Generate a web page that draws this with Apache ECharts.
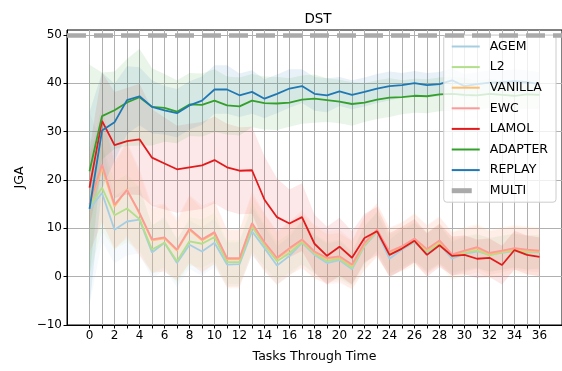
<!DOCTYPE html>
<html><head><meta charset="utf-8">
<script src="https://cdn.jsdelivr.net/npm/echarts@6/dist/echarts.min.js"></script>
<style>html,body{margin:0;padding:0;background:#fff}#c{width:562px;height:371px}</style>
</head><body><div id="c"></div>
<script>
const tasks = [0,1,2,3,4,5,6,7,8,9,10,11,12,13,14,15,16,17,18,19,20,21,22,23,24,25,26,27,28,29,30,31,32,33,34,35,36];
const xTickValues = [0,1,2,3,4,5,6,7,8,9,10,11,12,13,14,15,16,17,18,19,20,21,22,23,24,25,26,27,28,29,30,31,32,33,34,35,36];
const xLabelValues = [0,2,4,6,8,10,12,14,16,18,20,22,24,26,28,30,32,34,36];
const yTickValues = [-10,0,10,20,30,40,50];
const multiValue = 50;

const agem    = [14,17.3,9.7,11.4,11.8,5.0,7.0,2.8,6.6,5.2,7.0,2.5,2.6,9.4,5.9,2.3,4.3,7.0,4.5,2.8,3.4,1.5,6.3,9.2,3.7,5.6,7.1,4.9,6.6,3.7,4.7,5.2,4.6,4.9,5.3,5.0,5.0];
const agemStd = [20,10,7,7,7,5.5,5.5,5,5,5,5,4.5,4.5,5,4.5,4,4,4.5,4,4,4,3.5,4,4,4,4,4,4,4,3.5,3.5,3.5,3.5,3.5,3.5,3.5,3.5];
const l2      = [14.5,18.4,12.7,14.1,11.9,5.6,7.0,3.2,7.3,6.8,8.2,3.0,3.0,10.3,6.5,3.2,4.9,7.1,4.8,3.2,3.7,1.8,6.5,9.4,4.6,5.9,7.3,5.2,6.8,4.2,4.9,5.4,4.4,5.0,5.4,5.0,5.2];
const l2Std   = [14,9,7,7,6.5,5,5,4.5,5,5,5,4.5,4.5,5,4.5,4,4,4.5,4,4,4,3.5,4,4,4,4,4,4,4,3.5,3.5,3.5,3.5,3.5,3.5,3.5,3.5];
const vanilla = [14.8,22.5,14.5,18.0,13.0,7.5,7.9,5.4,9.7,7.5,9.0,3.6,3.6,10.9,6.9,3.7,5.7,7.5,5.0,3.7,4.0,2.3,6.8,9.5,5.0,6.1,7.7,5.5,7.3,4.4,5.2,5.9,4.7,5.2,5.7,5.4,5.2];
const vanillaStd = [10,11,9,9.5,8.5,6.5,7,6,7,6.5,6.5,6,6,6,6,5.5,5.5,5.5,5.5,5,5,5,5.5,5.5,5,5,5.5,5,5,5,5,5,5,5,5,5,5];
const ewc     = [15,23.2,14.9,17.9,13.2,7.7,8.1,5.6,9.9,7.7,9.2,3.8,3.8,11.1,7.1,3.9,5.9,7.7,5.2,3.9,4.2,2.5,7.0,9.7,5.2,6.3,7.9,5.7,7.5,4.6,5.4,6.1,4.9,5.4,5.9,5.6,5.4];
const ewcStd  = [10,12,9,10,9,7,7,6.5,7,7,6.5,6,6,6.5,6,5.5,5.5,6,5.5,5.5,5.5,5,5.5,5.5,5,5,5,5,5,4.5,4.5,4.5,4.5,4.5,4.5,4.5,4.5];
const lamol   = [18.4,32.2,27.2,28.0,28.4,24.6,23.4,22.2,22.6,23.0,24.1,22.6,21.9,22.0,15.9,12.3,11.0,12.3,6.8,4.3,6.2,3.9,8.0,9.4,4.5,5.8,7.4,4.5,6.5,4.3,4.5,3.7,3.9,2.4,5.5,4.5,4.1];
const lamolStd = [8,10,11,11,11.5,10,9.5,9,9,9,9,9,9,9,9,8,7,7,6,6,6,5.5,5,5,4.5,4.5,4.5,4.5,4.5,4,4,4,4,4,4,4,4];
const adapter = [21.8,33.2,34.4,36.0,37.1,35.1,34.9,34.1,35.6,35.5,36.4,35.4,35.2,36.4,35.9,35.8,36.0,36.6,36.8,36.5,36.2,35.7,36.0,36.6,37.0,37.1,37.4,37.3,37.7,37.8,37.6,37.5,37.8,37.6,37.4,37.7,37.6];
const adapterStd = [22,9,8,9,10,8,7,6.5,6.5,6.5,6.5,6,6,5.5,5.5,5.5,5,5,5,4.5,4.5,4.5,4,4,4,3.5,3.5,3.5,3.5,3.5,3.5,3,3,3,3,3,3];
const replay  = [14,30.2,31.9,36.5,37.3,35.1,34.4,33.8,35.4,36.4,38.7,38.7,37.5,38.2,36.8,37.8,38.9,39.4,37.8,37.5,38.3,37.6,38.2,38.9,39.4,39.6,40.0,39.6,39.8,40.6,39.4,39.8,40.1,40.2,40.4,40.2,39.8];
const replayStd = [20,12,8,7,6,5.5,5,5,5,5,5,5,4.5,4.5,4,4,4,3.5,3.5,3.5,3,3,3,3,3,2.5,2.5,2.5,2.5,2.5,2.5,2.5,2.5,2.5,2.5,2.5,2.5];

const seriesNames = ['AGEM','L2','VANILLA','EWC','LAMOL','ADAPTER','REPLAY'];
const seriesMeans = [agem,l2,vanilla,ewc,lamol,adapter,replay];
const seriesStds  = [agemStd,l2Std,vanillaStd,ewcStd,lamolStd,adapterStd,replayStd];
const seriesColors = ['#a6cee3','#b2df8a','#fdbf6f','#fb9a99','#e31a1c','#33a02c','#1f78b4'];
const multiColor = '#aaaaaa';

const FONT = 'DejaVu Sans';
const bandSeries = [], lineSeries = [];
seriesNames.forEach((n, k) => {
  const m = seriesMeans[k], s = seriesStds[k], col = seriesColors[k];
  bandSeries.push({
    name: n + '_band', type: 'custom', silent: true, z: 1,
    data: [[tasks[0], m[0]]],
    renderItem: (params, api) => {
      const pts = [];
      for (let i = 0; i < tasks.length; i++) pts.push(api.coord([tasks[i], m[i] + s[i]]));
      for (let i = tasks.length - 1; i >= 0; i--) pts.push(api.coord([tasks[i], m[i] - s[i]]));
      const cs = params.coordSys;
      return {
        type: 'polygon', shape: {points: pts},
        style: {fill: col, opacity: 0.1, stroke: null},
        clipPath: {type: 'rect', shape: {x: cs.x, y: cs.y, width: cs.width, height: cs.height}}
      };
    }
  });
  lineSeries.push({
    name: n, type: 'line', data: tasks.map((t, i) => [t, m[i]]),
    symbol: 'none', color: col,
    lineStyle: {color: col, width: 1.8}, z: 3
  });
});
const multiSeries = {
  name: 'MULTI', type: 'line', data: [], symbol: 'none', color: multiColor,
  lineStyle: {color: multiColor, width: 5, type: [19, 8]},
  markLine: {
    silent: true, symbol: 'none', label: {show: false},
    lineStyle: {color: multiColor, width: 4.5, type: [19, 8], opacity: 1},
    data: [{yAxis: multiValue}]
  }, z: 3
};

const lineIcon = 'path://M0,0H28V2H0Z';
const multiIcon = 'path://M0,0H20V5H0ZM28,0';
const legendData = seriesNames.map(n => ({name: n, icon: lineIcon})).concat([{name: 'MULTI', icon: multiIcon}]);

const chart = echarts.init(document.getElementById('c'), null, {renderer: 'canvas'});
chart.setOption({
  animation: false,
  backgroundColor: '#fff',
  textStyle: {fontFamily: FONT},
  title: {text: 'DST', left: 313, top: 7, textAlign: 'center',
    textStyle: {fontFamily: FONT, fontSize: 13.5, fontWeight: 'normal', color: '#000'}},
  grid: {left: 67, right: -2, top: 30, bottom: 46, show: true, borderColor: '#000', borderWidth: 1, backgroundColor: 'transparent'},
  legend: {
    data: legendData,
    orient: 'vertical', right: 6, top: 35,
    itemWidth: 28, itemHeight: 14, itemGap: 7.6,
    padding: [5, 8, 5, 8],
    backgroundColor: 'rgba(255,255,255,0.8)', borderColor: '#cccccc', borderWidth: 1, borderRadius: 3,
    textStyle: {fontFamily: FONT, fontSize: 12.5, color: '#000', padding: [0, 0, 0, 5]}
  },
  xAxis: {
    type: 'value', min: -1.8, max: 37.8,
    name: 'Tasks Through Time', nameLocation: 'middle', nameGap: 25,
    nameTextStyle: {fontFamily: FONT, fontSize: 12.5, color: '#000'},
    axisLine: {show: true, onZero: false, lineStyle: {color: '#000', width: 1}},
    axisTick: {show: true, customValues: xTickValues, length: 3.5, lineStyle: {color: '#000'}},
    axisLabel: {customValues: xLabelValues, fontFamily: FONT, fontSize: 12, color: '#000', margin: 5},
    splitLine: {show: true, lineStyle: {color: '#b0b0b0', width: 1}}
  },
  yAxis: {
    type: 'value', min: -10, max: 51,
    name: 'JGA', nameLocation: 'middle', nameGap: 39, nameRotate: 90,
    nameTextStyle: {fontFamily: FONT, fontSize: 12.5, color: '#000'},
    axisLine: {show: true, onZero: false, lineStyle: {color: '#000', width: 1}},
    axisTick: {show: true, customValues: yTickValues, length: 3.5, lineStyle: {color: '#000'}},
    axisLabel: {customValues: yTickValues, fontFamily: FONT, fontSize: 12, color: '#000', margin: 5,
      formatter: v => String(v).replace('-', '\u2212')},
    splitLine: {show: true, lineStyle: {color: '#b0b0b0', width: 1}}
  },
  series: bandSeries.concat(lineSeries, [multiSeries])
});
</script></body></html>
